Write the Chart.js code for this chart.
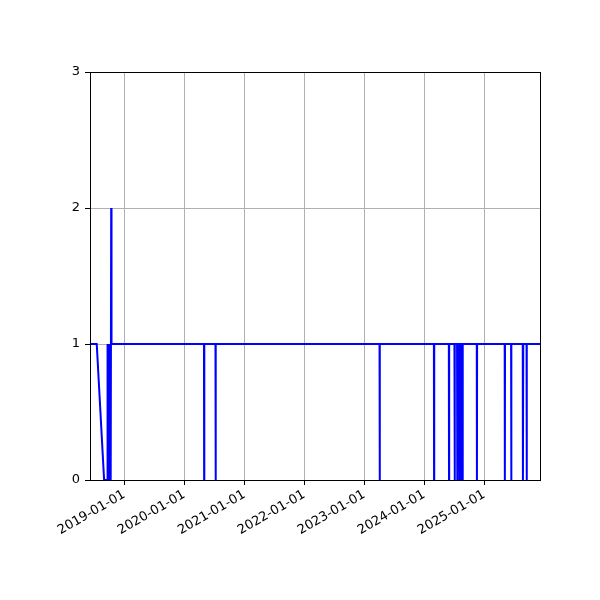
<!DOCTYPE html>
<html>
<head>
    <meta charset="utf-8">
    <title>Daily count</title>
    <script src="https://cdn.jsdelivr.net/npm/chart.js"></script>
    <style>
        body { margin: 0; background: #fff; }
        canvas { display: block; }
    </style>
</head>
<body>
    <canvas id="chart" width="600" height="600"></canvas>
    <script>
        // points where the series changes
        const dates = [
            '2018-06-06', '2018-07-17', '2018-08-31', '2018-09-19', '2018-09-21',
            '2018-09-25', '2018-09-28', '2018-10-02', '2018-10-05', '2018-10-10',
            '2018-10-13', '2018-10-15',
            '2020-04-30', '2020-05-01', '2020-05-02',
            '2020-07-09', '2020-07-10', '2020-07-11',
            '2023-04-04', '2023-04-05', '2023-04-06',
            '2024-02-29', '2024-03-01', '2024-03-02',
            '2024-05-30', '2024-05-31', '2024-06-01',
            '2024-07-03', '2024-07-04', '2024-07-06',
            '2024-07-19', '2024-07-20', '2024-07-21',
            '2024-07-31', '2024-08-01', '2024-08-03',
            '2024-08-12', '2024-08-13', '2024-08-14',
            '2024-08-21', '2024-08-22', '2024-08-23',
            '2024-11-16', '2024-11-17', '2024-11-18',
            '2025-05-05', '2025-05-06', '2025-05-07',
            '2025-06-13', '2025-06-14', '2025-06-15',
            '2025-08-23', '2025-08-24', '2025-08-26',
            '2025-09-15', '2025-09-16', '2025-09-17',
            '2025-12-06'
        ];
        const values = [
            1, 1, 0, 0, 1,
            0, 1, 0, 1, 0,
            2, 1,
            1, 0, 1,
            1, 0, 1,
            1, 0, 1,
            1, 0, 1,
            1, 0, 1,
            1, 0, 1,
            1, 0, 1,
            1, 0, 1,
            1, 0, 1,
            1, 0, 1,
            1, 0, 1,
            1, 0, 1,
            1, 0, 1,
            1, 0, 1,
            1, 0, 1,
            1
        ];
        const xTickLabels = ['2019-01-01', '2020-01-01', '2021-01-01', '2022-01-01',
                             '2023-01-01', '2024-01-01', '2025-01-01'];
        const yTicks = [0, 1, 2, 3];

        // frame on all four sides, like matplotlib spines
        const frame = {
            id: 'frame',
            afterDraw(chart) {
                const a = chart.chartArea, ctx = chart.ctx;
                ctx.save();
                ctx.strokeStyle = '#000';
                ctx.lineWidth = 1;
                ctx.strokeRect(Math.round(a.left) + 0.5, Math.round(a.top) + 0.5,
                    Math.round(a.right - a.left), Math.round(a.bottom - a.top));
                ctx.restore();
            }
        };

        const font = { family: 'DejaVu Sans', size: 13 };

        new Chart(document.getElementById('chart').getContext('2d'), {
            type: 'line',
            data: {
                datasets: [{
                    data: dates.map((d, i) => ({ x: Date.parse(d), y: values[i] })),
                    borderColor: '#0000ff',
                    borderWidth: 2,
                    pointRadius: 0,
                    tension: 0,
                    fill: false
                }]
            },
            options: {
                responsive: false,
                animation: false,
                devicePixelRatio: 1,
                layout: { padding: { left: 0, top: 72, right: 60, bottom: 0 } },
                plugins: { legend: { display: false }, tooltip: { enabled: false } },
                scales: {
                    x: {
                        type: 'linear',
                        min: Date.parse(dates[0]),
                        max: Date.parse(dates[dates.length - 1]),
                        afterBuildTicks: s => {
                            s.ticks = xTickLabels.map(t => ({ value: Date.parse(t) }));
                        },
                        afterFit: s => { s.height = 120; },
                        grid: { color: '#b0b0b0', lineWidth: 1, tickColor: '#000', tickLength: 5 },
                        border: { color: '#000', width: 1 },
                        ticks: {
                            color: '#000',
                            font: font,
                            autoSkip: false,
                            minRotation: 30,
                            maxRotation: 30,
                            padding: 2,
                            callback: (v, i) => xTickLabels[i]
                        }
                    },
                    y: {
                        min: 0,
                        max: 3,
                        afterBuildTicks: s => {
                            s.ticks = yTicks.map(v => ({ value: v }));
                        },
                        afterFit: s => { s.width = 90; },
                        grid: { color: '#b0b0b0', lineWidth: 1, tickColor: '#000', tickLength: 5 },
                        border: { color: '#000', width: 1 },
                        ticks: { color: '#000', font: font, padding: 5 }
                    }
                }
            },
            plugins: [frame]
        });
    </script>
</body>
</html>
